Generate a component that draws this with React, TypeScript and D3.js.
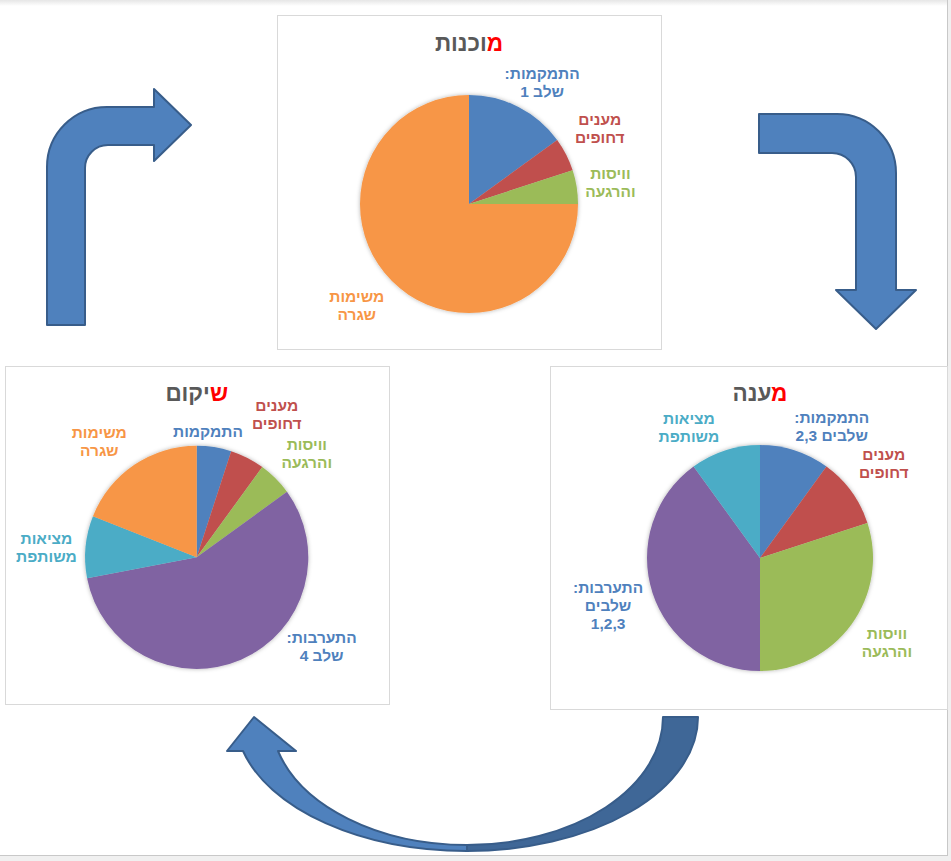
import React from "react";
import * as d3 from "d3";

// ---------- data ----------
const readinessTitle = ["מ", "וכנות"];
const readinessLabels = [["התמקמות:", "שלב 1"], ["מענים", "דחופים"], ["וויסות", "והרגעה"], ["משימות", "שגרה"]];
const readinessKeys = ["settling", "urgent", "regulation", "routine"];
const readinessValues = [15, 5, 5, 75];

const responseTitle = ["מ", "ענה"];
const responseLabels = [["התמקמות:", "שלבים 2,3"], ["מענים", "דחופים"], ["וויסות", "והרגעה"], ["התערבות:", "שלבים", "1,2,3"], ["מציאות", "משותפת"]];
const responseKeys = ["settling", "urgent", "regulation", "intervention", "shared"];
const responseValues = [10, 10, 30, 40, 10];

const rehabTitle = ["ש", "יקום"];
const rehabLabels = [["התמקמות"], ["מענים", "דחופים"], ["וויסות", "והרגעה"], ["התערבות:", "שלב 4"], ["מציאות", "משותפת"], ["משימות", "שגרה"]];
const rehabKeys = ["settling", "urgent", "regulation", "intervention", "shared", "routine"];
const rehabValues = [5, 5, 5, 57, 9, 19];

// ---------- styles ----------
const sliceColor: Record<string, string> = {
  settling: "#4F81BD",
  urgent: "#C0504D",
  regulation: "#9BBB59",
  intervention: "#8064A2",
  shared: "#4BACC6",
  routine: "#F79646",
};
const labelColor: Record<string, string> = {
  settling: "#4F81BD",
  urgent: "#C0504D",
  regulation: "#9BBB59",
  intervention: "#4F81BD",
  shared: "#4BACC6",
  routine: "#F79646",
};
const FONT = '"Liberation Sans", Arial, "DejaVu Sans", sans-serif';

type Layout = {
  box: [number, number, number, number];
  cx: number;
  cy: number;
  r: number;
  titleY: number;
  // label placement: [angle nudge in degrees, distance beyond the rim]
  nudges: [number, number][];
};

const readinessLayout: Layout = {
  box: [277.5, 15.5, 384, 334],
  cx: 469, cy: 204, r: 109, titleY: 51,
  nudges: [[4, 33], [-3, 42], [0.5, 34], [3, 42]],
};
const responseLayout: Layout = {
  box: [550.5, 366.5, 397, 343],
  cx: 760, cy: 558, r: 113, titleY: 401,
  nudges: [[10.6, 37], [-1.5, 43], [-2.4, 39.5], [0.8, 46], [-10.5, 36]],
};
const rehabLayout: Layout = {
  box: [5.5, 366.5, 384, 338],
  cx: 196.7, cy: 557.3, r: 111.6, titleY: 401,
  nudges: [[-3.9, 15], [2.3, 52], [1.6, 40], [-31, 42], [-1.7, 39], [-5.8, 40]],
};

function PieBlock({ values, labels, keys, title, layout }: { values: number[]; labels: string[][]; keys: string[]; title: string[]; layout: Layout }) {
  const pie = d3.pie<number>().sort(null).value((d) => d);
  const arcs = pie(values);
  const arc = d3.arc<d3.PieArcDatum<number>>().innerRadius(0).outerRadius(layout.r);
  const [bx, by, bw, bh] = layout.box;
  const fs = 15.5;
  const lh = 18;
  return (
    <g>
      <rect x={bx} y={by} width={bw} height={bh} fill="#fff" stroke="#D9D9D9" strokeWidth={1} />
      <text x={layout.cx} y={layout.titleY} textAnchor="middle" direction="rtl" fontFamily={FONT} fontWeight="bold" fontSize={22.5} fill="#595959">
        <tspan fill="#FF0000">{title[0]}</tspan>
        <tspan>{title[1]}</tspan>
      </text>
      <g transform={`translate(${layout.cx},${layout.cy})`} filter="url(#pieShadow)">
        {arcs.map((a, i) => (
          <path key={i} d={arc(a) || ""} fill={sliceColor[keys[i]]} />
        ))}
      </g>
      {arcs.map((a, i) => {
        const [dA, dR] = layout.nudges[i];
        const ang = (a.startAngle + a.endAngle) / 2 + (dA * Math.PI) / 180;
        const dist = layout.r + dR;
        const x = layout.cx + dist * Math.sin(ang);
        const y = layout.cy - dist * Math.cos(ang);
        const lines = labels[i];
        return (
          <text key={i} textAnchor="middle" direction="rtl" fontFamily={FONT} fontWeight="bold" fontSize={fs} fill={labelColor[keys[i]]}>
            {lines.map((ln, j) => (
              <tspan key={j} x={x} y={y + (j - (lines.length - 1) / 2) * lh + fs * 0.36}>
                {ln}
              </tspan>
            ))}
          </text>
        );
      })}
    </g>
  );
}

export default function App() {
  const arrowFill = "#4F81BD";
  const arrowDark = "#3F6797";
  const arrowStroke = "#385D8A";
  return (
    <div style={{ position: "absolute", left: 0, top: 0 }}>
      <svg width={951} height={861} style={{ display: "block" }}>
        <defs>
          <filter id="pieShadow" x="-20%" y="-20%" width="140%" height="140%">
            <feDropShadow dx="0" dy="0" stdDeviation="2" floodColor="#000" floodOpacity="0.3" />
          </filter>
          <linearGradient id="topShade" x1="0" y1="0" x2="0" y2="1">
            <stop offset="0" stopColor="#E6E6E6" />
            <stop offset="1" stopColor="#FFFFFF" />
          </linearGradient>
        </defs>
        <rect x={0} y={0} width={951} height={861} fill="#fff" />
        <rect x={0} y={0} width={951} height={6} fill="url(#topShade)" />
        <rect x={948} y={0} width={3} height={861} fill="#F0F0F0" />
        <line x1={947.5} y1={0} x2={947.5} y2={856} stroke="#C8C8C8" />
        <rect x={0} y={856} width={951} height={5} fill="#F0F0F0" />
        <line x1={0} y1={855.5} x2={948} y2={855.5} stroke="#C8C8C8" />

        <PieBlock values={readinessValues} labels={readinessLabels} keys={readinessKeys} title={readinessTitle} layout={readinessLayout} />
        <PieBlock values={responseValues} labels={responseLabels} keys={responseKeys} title={responseTitle} layout={responseLayout} />
        <PieBlock values={rehabValues} labels={rehabLabels} keys={rehabKeys} title={rehabTitle} layout={rehabLayout} />

        {/* left bent arrow (up, then right) */}
        <path
          d="M47,325 L47,167 A60,60 0 0 1 107,107 L154,107 L154,89 L191,125 L154,161 L154,145 L108,145 A23,23 0 0 0 85,168 L85,325 Z"
          fill={arrowFill}
          stroke={arrowStroke}
          strokeWidth={2}
          strokeLinejoin="round"
        />
        {/* right bent arrow (right, then down) */}
        <path
          d="M759,114 L837,114 A59,59 0 0 1 896,173 L896,290 L916,290 L876,329 L836,290 L856,290 L856,177 A24,24 0 0 0 832,153 L759,153 Z"
          fill={arrowFill}
          stroke={arrowStroke}
          strokeWidth={2}
          strokeLinejoin="round"
        />
        {/* bottom curved arrow */}
        <path
          d="M698,717 A231,134 0 0 1 467,851 L467,845 A196,128 0 0 0 663,717 Z"
          fill={arrowDark}
          stroke={arrowStroke}
          strokeWidth={2}
          strokeLinejoin="round"
        />
        <path
          d="M467,851 A231,134 0 0 1 243,751 L227,751 L254,717 L296,751 L278,751 A196,128 0 0 0 467,845 Z"
          fill={arrowFill}
          stroke={arrowStroke}
          strokeWidth={2}
          strokeLinejoin="round"
        />
      </svg>
    </div>
  );
}
